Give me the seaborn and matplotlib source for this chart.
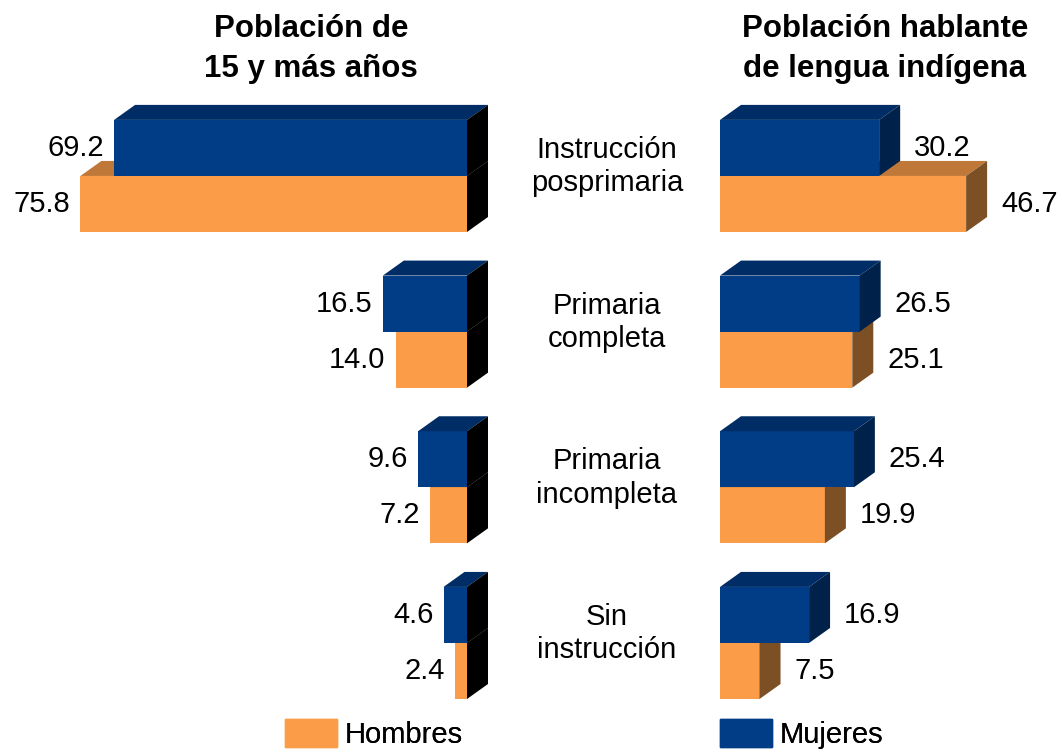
import pandas as pd
import matplotlib.pyplot as plt
import seaborn as sns
from matplotlib.patches import Polygon, Patch
from matplotlib import transforms

# Datos (porcentajes)
categories = ["Instrucción\nposprimaria", "Primaria\ncompleta",
              "Primaria\nincompleta", "Sin\ninstrucción"]
sexes = ["Mujeres", "Hombres"]
pob_mujeres = [69.2, 16.5, 9.6, 4.6]
pob_hombres = [75.8, 14.0, 7.2, 2.4]
ind_mujeres = [30.2, 26.5, 25.4, 16.9]
ind_hombres = [46.7, 25.1, 19.9, 7.5]

titles = ["Población de\n15 y más años", "Población hablante\nde lengua indígena"]

front = {"Mujeres": "#003D86", "Hombres": "#FB9D48"}
top = {"Mujeres": "#002D66", "Hombres": "#C07838"}
side_left = {"Mujeres": "#000000", "Hombres": "#000000"}
side_right = {"Mujeres": "#00214A", "Hombres": "#7D4F24"}
order_z = {"Mujeres": 3, "Hombres": 2}


def make_df(mujeres, hombres):
    return pd.DataFrame({
        "nivel": categories * 2,
        "sexo": ["Mujeres"] * len(mujeres) + ["Hombres"] * len(hombres),
        "valor": mujeres + hombres,
    })


def px2data(ax, dx_px, dy_px):
    inv = ax.transData.inverted()
    x0, y0 = inv.transform((0, 0))
    x1, y1 = inv.transform((dx_px, dy_px))
    return x1 - x0, y1 - y0


sns.set_theme(style="white")
plt.rcParams["font.family"] = ["Liberation Sans", "DejaVu Sans"]
plt.rcParams["text.color"] = "black"

fig = plt.figure(figsize=(10.62, 7.55), dpi=100)
ax_l = fig.add_axes([0.04595, 0.0453, 0.4178, 0.8763])
ax_r = fig.add_axes([0.67301, 0.0453, 0.3027, 0.8763])

panels = [
    (ax_l, make_df(pob_mujeres, pob_hombres), (82, -5), side_left),
    (ax_r, make_df(ind_mujeres, ind_hombres), (-1, 60), side_right),
]

for ax, df, xlim, side in panels:
    sns.barplot(data=df, x="valor", y="nivel", hue="sexo", hue_order=sexes,
                palette=front, orient="h", width=0.72, saturation=1,
                linewidth=0, legend=False, ax=ax)
    ax.set_xlim(xlim)
    ax.set_ylim(3.5, -0.75)
    ax.axis("off")

    dx, dy = px2data(ax, 21, 15)
    inverted = ax.xaxis_inverted()
    for cont, sx in zip(ax.containers, sexes):
        for p in cont.patches:
            p.set_zorder(order_z[sx])
            x0, w = p.get_x(), p.get_width()
            yt, yb = p.get_y(), p.get_y() + p.get_height()
            ax.add_patch(Polygon([(x0, yt), (x0 + w, yt), (x0 + w + dx, yt + dy),
                                  (x0 + dx, yt + dy)], closed=True,
                                 facecolor=top[sx], edgecolor="none",
                                 zorder=order_z[sx]))
            xe = x0 if inverted else x0 + w
            ax.add_patch(Polygon([(xe, yt), (xe, yb), (xe + dx, yb + dy),
                                  (xe + dx, yt + dy)], closed=True,
                                 facecolor=side[sx], edgecolor="none",
                                 zorder=order_z[sx]))
            yc = (yt + yb) / 2
            if inverted:
                gap, _ = px2data(ax, -10, 0)
                ax.text(x0 + w + gap, yc, f"{w:.1f}", ha="right", va="center",
                        fontsize=21, color="black")
            else:
                gap, _ = px2data(ax, 14, 0)
                ax.text(x0 + w + dx + gap, yc, f"{w:.1f}", ha="left",
                        va="center", fontsize=21, color="black")

# Etiquetas de categoría al centro
trans = transforms.blended_transform_factory(fig.transFigure, ax_r.transData)
for i, cat in enumerate(categories):
    ax_r.text(607 / 1062, i - 0.06, cat, transform=trans, ha="center",
              va="center", fontsize=21, linespacing=1.25, clip_on=False)

# Títulos
fig.text(311 / 1062, 1 - 49 / 755, titles[0], ha="center", va="center",
         fontsize=22.5, fontweight="bold", linespacing=1.4)
fig.text(885 / 1062, 1 - 49 / 755, titles[1], ha="center", va="center",
         fontsize=22.5, fontweight="bold", linespacing=1.4)

# Leyenda
for sx, xpos in [("Hombres", 285), ("Mujeres", 720)]:
    lg = fig.legend(handles=[Patch(color=front[sx], label=sx)],
                    loc="center left", bbox_to_anchor=(xpos / 1062, 1 - 734 / 755),
                    frameon=False, fontsize=21, handlelength=1.78,
                    handleheight=1.13, handletextpad=0.27, borderpad=0,
                    borderaxespad=0)
    fig.add_artist(lg)

fig.savefig("out.png", dpi=100)
